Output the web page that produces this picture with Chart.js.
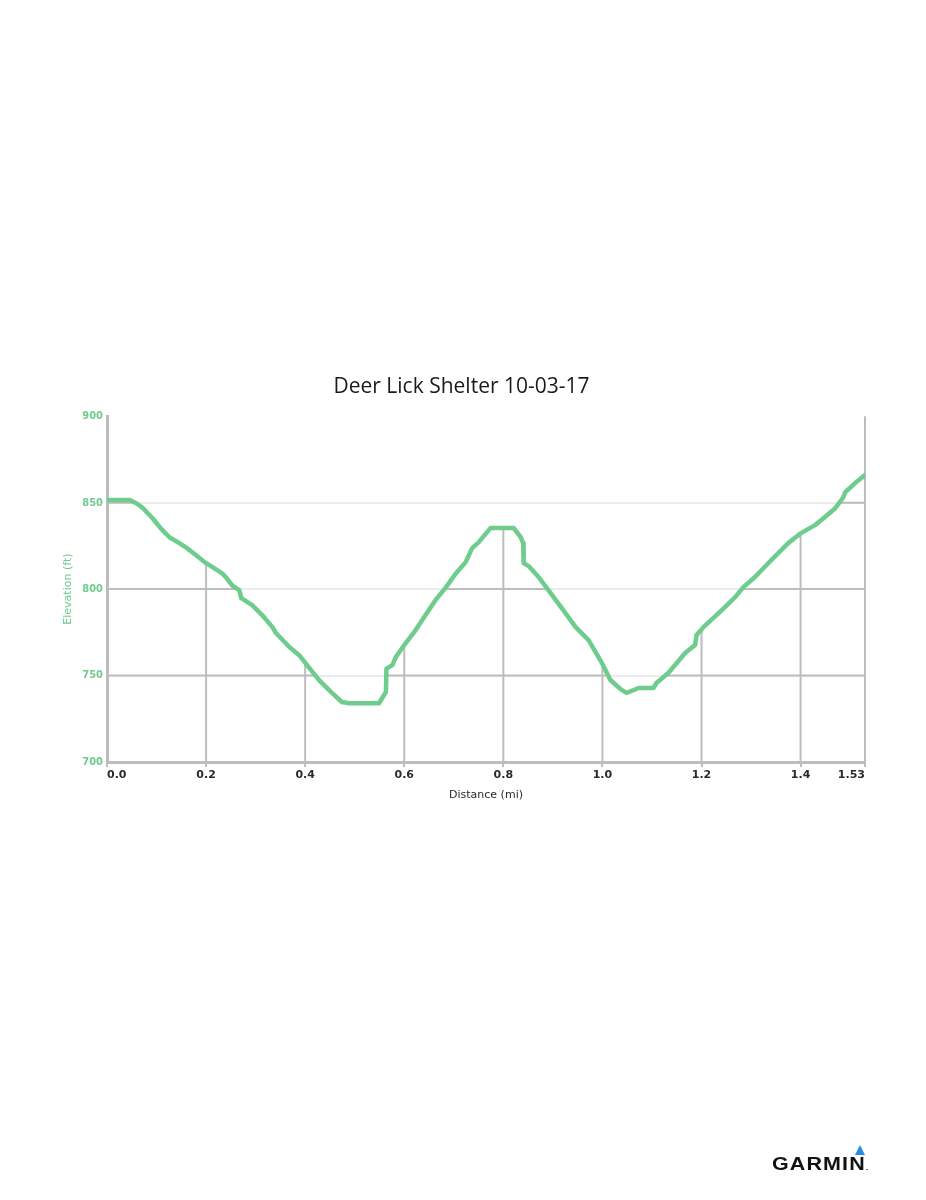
<!DOCTYPE html>
<html>
<head>
<meta charset="utf-8">
<script src="https://cdn.jsdelivr.net/npm/chart.js@4"></script>
<style>
    html, body { margin: 0; padding: 0; background: #fff; }
    #wrap { position: relative; width: 926px; height: 1200px; }
    #grafica { position: absolute; left: 0; top: 0; }
    .logo { position: absolute; left: 772px; top: 1153px; font: bold 19px "Liberation Sans", Arial, sans-serif; color: #111;
        letter-spacing: 1px; transform: scaleX(1.13); transform-origin: left top; white-space: nowrap; }
    .logo small { font-size: 8px; letter-spacing: 0; }
    .delta { position: absolute; left: 855px; top: 1145px; width: 0; height: 0;
        border-left: 5.5px solid transparent; border-right: 5.5px solid transparent; border-bottom: 10px solid #2b8be0; }
</style>
</head>
<body>
<div id="wrap">
    <canvas id="grafica" width="926" height="1200"></canvas>
    <div class="delta"></div>
    <div class="logo">GARMIN<small>.</small></div>
</div>
<script>
const titulo = 'Deer Lick Shelter 10-03-17';

// distance (mi) and elevation (ft)
const distancia = [0.000, 0.046, 0.060, 0.072, 0.092, 0.109, 0.126, 0.146, 0.160, 0.180,
    0.197, 0.213, 0.233, 0.243, 0.253, 0.267, 0.271, 0.293, 0.313, 0.334,
    0.341, 0.368, 0.388, 0.401, 0.428, 0.454, 0.474, 0.489, 0.549, 0.563,
    0.564, 0.576, 0.583, 0.603, 0.623, 0.643, 0.663, 0.684, 0.704, 0.724,
    0.737, 0.750, 0.774, 0.821, 0.835, 0.840, 0.841, 0.851, 0.871, 0.891,
    0.918, 0.946, 0.972, 0.998, 1.016, 1.039, 1.049, 1.073, 1.103, 1.109,
    1.133, 1.167, 1.187, 1.190, 1.204, 1.241, 1.268, 1.284, 1.308, 1.341,
    1.375, 1.401, 1.429, 1.442, 1.470, 1.486, 1.490, 1.510, 1.530];
const elevacion = [851.5, 851.5, 849.5, 847, 841, 835, 830, 826.6, 824, 819.6,
    815.6, 812.7, 809, 805.8, 802, 799.4, 794.8, 790.7, 785, 778,
    774.6, 766.5, 761.8, 757, 747.4, 740, 734.7, 734, 734, 740.5,
    754, 756, 760.7, 768.8, 776.3, 785, 793.6, 801, 809, 815.6,
    823.7, 827, 835.3, 835.3, 830, 826.6, 815, 813.3, 807, 799.4,
    789, 778, 770.5, 757.8, 747.4, 741.6, 740, 742.8, 742.8, 745.7,
    751.5, 763, 767.6, 773.4, 778, 787.9, 795.4, 801, 807, 816.8,
    826.6, 832.4, 837, 840, 846.8, 853, 856, 861.3, 866];

const xTicks = [0, 0.2, 0.4, 0.6, 0.8, 1.0, 1.2, 1.4, 1.53];
const xEtiquetas = ['0.0', '0.2', '0.4', '0.6', '0.8', '1.0', '1.2', '1.4', '1.53'];
const yTicks = [700, 750, 800, 850, 900];

const verde = 'rgb(110, 204, 140)';
const gris = '#bdbdbd';

// darker grid only under the profile, like the Garmin export
const gridBajoCurva = {
    id: 'gridBajoCurva',
    beforeDatasetsDraw(chart) {
        const { ctx, chartArea, scales } = chart;
        const puntos = chart.getDatasetMeta(0).data;
        ctx.save();
        ctx.beginPath();
        ctx.moveTo(puntos[0].x, puntos[0].y);
        puntos.forEach(p => ctx.lineTo(p.x, p.y));
        ctx.lineTo(puntos[puntos.length - 1].x, chartArea.bottom);
        ctx.lineTo(puntos[0].x, chartArea.bottom);
        ctx.closePath();
        ctx.clip();
        ctx.strokeStyle = gris;
        ctx.lineWidth = 2;
        xTicks.slice(1, -1).forEach(v => {
            const x = scales.x.getPixelForValue(v);
            ctx.beginPath();
            ctx.moveTo(x, chartArea.top);
            ctx.lineTo(x, chartArea.bottom);
            ctx.stroke();
        });
        yTicks.slice(1, -1).forEach(v => {
            const y = scales.y.getPixelForValue(v);
            ctx.beginPath();
            ctx.moveTo(chartArea.left, y);
            ctx.lineTo(chartArea.right, y);
            ctx.stroke();
        });
        ctx.restore();

        // right edge line
        ctx.save();
        ctx.strokeStyle = gris;
        ctx.lineWidth = 2;
        const xr = scales.x.getPixelForValue(xTicks[xTicks.length - 1]);
        ctx.beginPath();
        ctx.moveTo(xr, chartArea.top);
        ctx.lineTo(xr, chartArea.bottom + 3);
        ctx.stroke();
        ctx.restore();
    }
};

document.addEventListener('DOMContentLoaded', () => {
    const datos = distancia.map((d, i) => ({ x: d, y: elevacion[i] }));

    new Chart(document.getElementById('grafica').getContext('2d'), {
        type: 'line',
        data: {
            datasets: [{
                label: 'Elevation',
                data: datos,
                borderColor: verde,
                borderWidth: 4.5,
                pointRadius: 0,
                tension: 0,
                fill: false,
                borderJoinStyle: 'round',
                borderCapStyle: 'round'
            }]
        },
        options: {
            responsive: false,
            animation: false,
            layout: { padding: { top: 360, left: 58, right: 61, bottom: 394 } },
            plugins: {
                legend: { display: false },
                tooltip: { enabled: false },
                title: {
                    display: true,
                    text: titulo,
                    color: '#1a1a1a',
                    font: { family: '"Open Sans", "Liberation Sans"', size: 21, weight: 'normal' },
                    padding: { top: 14, bottom: 17 }
                }
            },
            scales: {
                x: {
                    type: 'linear',
                    min: 0,
                    max: xTicks[xTicks.length - 1],
                    afterBuildTicks: scale => { scale.ticks = xTicks.map(v => ({ value: v })); },
                    afterFit: scale => { scale.height = 44; },
                    ticks: {
                        align: 'inner',
                        padding: 2,
                        color: '#2a2a2a',
                        font: { family: 'DejaVu Sans', size: 11, weight: 'bold' },
                        callback: (v) => xEtiquetas[xTicks.indexOf(v)]
                    },
                    grid: { color: 'transparent', tickColor: gris, tickLength: 5, lineWidth: 2 },
                    border: { color: gris, width: 3 },
                    title: {
                        display: true,
                        text: 'Distance (mi)',
                        color: '#2a2a2a',
                        font: { family: 'DejaVu Sans', size: 11 },
                        padding: 4
                    }
                },
                y: {
                    min: yTicks[0],
                    max: yTicks[yTicks.length - 1],
                    afterBuildTicks: scale => { scale.ticks = yTicks.map(v => ({ value: v })); },
                    afterFit: scale => { scale.width = 49; },
                    ticks: {
                        padding: 4,
                        color: verde,
                        font: { family: '"DejaVu Sans Condensed", "DejaVu Sans"', size: 11, weight: 'bold' }
                    },
                    grid: {
                        drawTicks: false,
                        lineWidth: 2,
                        color: ctx => (ctx.tick && ctx.tick.value === 900) ? 'transparent' : '#ececec'
                    },
                    border: { color: gris, width: 3 },
                    title: {
                        display: true,
                        text: 'Elevation (ft)',
                        color: verde,
                        font: { family: 'DejaVu Sans', size: 11 },
                        padding: 4
                    }
                }
            }
        },
        plugins: [gridBajoCurva]
    });
});
</script>
</body>
</html>
